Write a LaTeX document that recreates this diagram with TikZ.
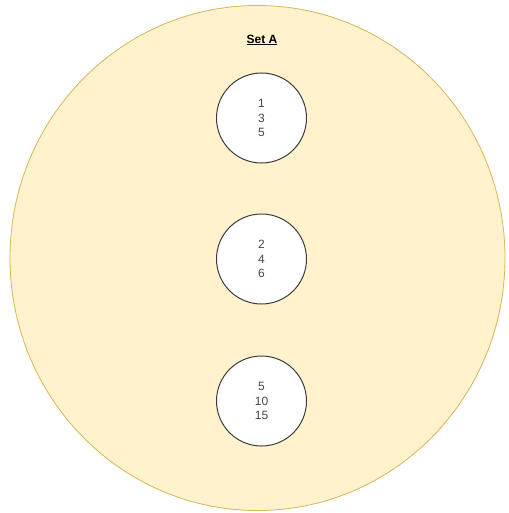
\documentclass[tikz,border=0pt]{standalone}
\usepackage{fontspec}
\setmainfont{Liberation Sans}
\usepackage{tikz}
\usetikzlibrary{shapes.geometric}
\definecolor{setFill}  {RGB}{255, 242, 204}
\definecolor{setLine}  {RGB}{214, 182,  86}
\definecolor{elemLine} {RGB}{ 60,  60,  60}
\definecolor{elemText} {RGB}{ 70,  70,  70}

\begin{document}
\begin{tikzpicture}[x=1pt,y=-1pt,
        setbox/.style={ellipse,draw=setLine,fill=setFill,line width=0.8pt,
                       minimum width=495pt,minimum height=505pt,inner sep=0pt},
        elem/.style={circle,draw=elemLine,fill=white,line width=1pt,
                     minimum size=90pt,inner sep=0pt,align=center,
                     text=elemText,font=\fontsize{12}{14.5}\selectfont}]
        \useasboundingbox (0,0) rectangle (508,513);

        \node[setbox] (setA) at (257.5,258) {};
        \node[font=\fontsize{12}{14}\selectfont\bfseries] (title) at (262,40) {\underline{Set A}};

        \node[elem] (odd)  at (261.5,118) {1\\3\\5};
        \node[elem] (even) at (261.5,259) {2\\4\\6};
        \node[elem] (five) at (261.5,401) {5\\10\\15};
      \end{tikzpicture}
\end{document}
